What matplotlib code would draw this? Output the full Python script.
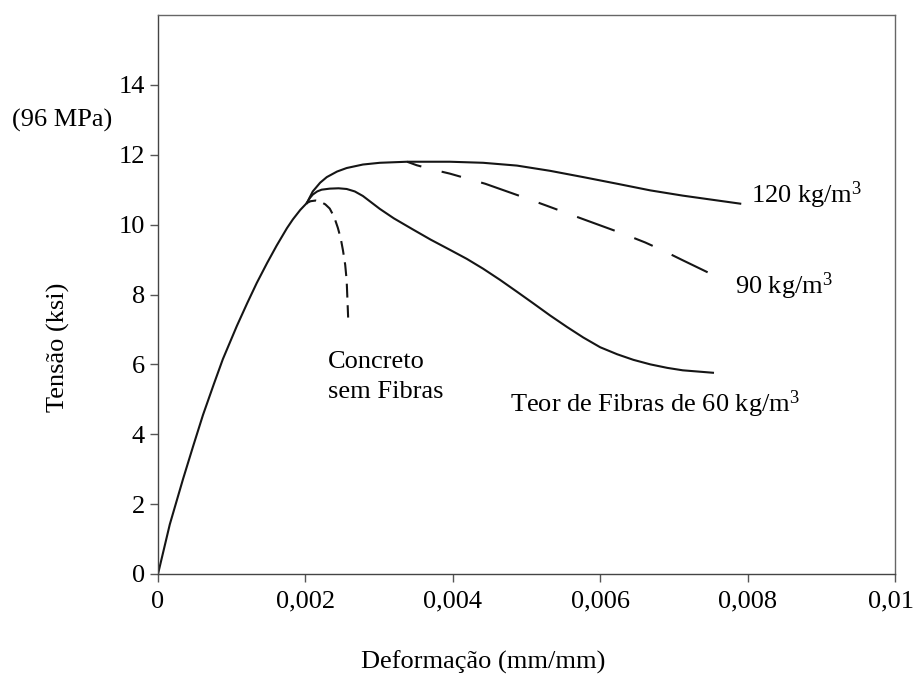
import matplotlib
matplotlib.use('Agg')
import matplotlib.pyplot as plt
import matplotlib.transforms as mtransforms

# strain (mm/mm) and stress (ksi)
rise_x = [0, 0.00016, 0.00034, 0.00048, 0.00061, 0.00076, 0.00088, 0.00107, 0.00121, 0.00134,
          0.00148, 0.00161, 0.00175, 0.00183, 0.00193, 0.00202]
rise_y = [0, 1.42, 2.72, 3.68, 4.55, 5.45, 6.15, 7.10, 7.75, 8.33,
          8.90, 9.40, 9.90, 10.15, 10.42, 10.62]

plain_x = [0.00202, 0.00207, 0.00214, 0.0022, 0.00227, 0.00233, 0.00239, 0.00244, 0.00248, 0.00251,
           0.00254, 0.00256, 0.00258]
plain_y = [10.62, 10.67, 10.69, 10.66, 10.58, 10.46, 10.22, 9.91, 9.60, 9.26,
           8.85, 8.40, 7.34]

f60_x = [0.00202, 0.00206, 0.0021, 0.00216, 0.00222, 0.00233, 0.00245, 0.00256, 0.00267, 0.00278,
         0.00301, 0.0032, 0.00346, 0.0037, 0.00396, 0.00419, 0.00441, 0.00464, 0.00487, 0.00509,
         0.00532, 0.00555, 0.00577, 0.006, 0.00623, 0.00645, 0.00668, 0.00691, 0.00712, 0.00753]
f60_y = [10.62, 10.76, 10.86, 10.95, 11.0, 11.03, 11.04, 11.02, 10.95, 10.82,
         10.45, 10.18, 9.86, 9.57, 9.28, 9.02, 8.74, 8.42, 8.08, 7.75,
         7.40, 7.07, 6.77, 6.49, 6.29, 6.13, 6.00, 5.90, 5.83, 5.76]

f120_x = [0.00202, 0.0021, 0.0022, 0.00229, 0.00243, 0.00256, 0.00278, 0.00301, 0.00338, 0.00396,
          0.00441, 0.00487, 0.00532, 0.00577, 0.00623, 0.00668, 0.00712, 0.0079]
f120_y = [10.62, 10.95, 11.20, 11.36, 11.52, 11.62, 11.72, 11.77, 11.80, 11.80,
          11.77, 11.69, 11.54, 11.36, 11.17, 10.98, 10.83, 10.60]

f90_x = [0.00338, 0.00351, 0.00372, 0.00396, 0.00444, 0.00495, 0.00525, 0.00552, 0.00579, 0.00631,
         0.00661, 0.00685, 0.00712, 0.00763]
f90_y = [11.80, 11.70, 11.58, 11.46, 11.17, 10.79, 10.56, 10.35, 10.14, 9.74,
         9.49, 9.26, 8.98, 8.46]

x_ticks = [0, 0.002, 0.004, 0.006, 0.008, 0.01]
x_labels = ['0', '0,002', '0,004', '0,006', '0,008', '0,01']
y_ticks = [0, 2, 4, 6, 8, 10, 12, 14]

plt.rcParams['font.family'] = ['Liberation Serif', 'DejaVu Serif']
plt.rcParams['font.size'] = 19
plt.rcParams['mathtext.fontset'] = 'custom'
plt.rcParams['mathtext.rm'] = 'Liberation Serif'
plt.rcParams['lines.scale_dashes'] = False

fig = plt.figure(figsize=(9.16, 6.76), dpi=100)
ax = fig.add_axes([158 / 916, 1 - 574 / 676, 737 / 916, 559 / 676])

ink = '#151515'
lw = 1.5
ax.plot(rise_x, rise_y, color=ink, lw=lw)
ax.plot(f60_x, f60_y, color=ink, lw=lw)
ax.plot(f120_x, f120_y, color=ink, lw=lw)
ax.plot(plain_x, plain_y, color=ink, lw=lw, linestyle=(3, (10, 5.5)))
ax.plot(f90_x, f90_y, color=ink, lw=lw, linestyle=(18, (28.8, 15.1, 14.4, 15.1)))

ax.set_xlim(0, 0.01)
ax.set_ylim(0, 16)
ax.set_xticks(x_ticks)
ax.set_xticklabels(x_labels)
ax.set_yticks(y_ticks)

for side in ['left', 'right', 'top', 'bottom']:
    ax.spines[side].set_color('#666666')
    ax.spines[side].set_linewidth(1.0)
ax.spines['left'].set_color('#444444')
ax.spines['bottom'].set_color('#444444')
ax.tick_params(axis='both', direction='out', length=6, width=1, color='#555555', labelcolor='black')
ax.tick_params(axis='x', pad=6)
ax.tick_params(axis='y', pad=3.5)

# last x label sits right at the figure edge, nudge it in a little
last = ax.get_xticklabels()[-1]
last.set_transform(last.get_transform() + mtransforms.ScaledTranslation(-4 / 100, 0, fig.dpi_scale_trans))

# curve labels
unit = r'kg/m$\mathregular{^3}$'
ax.text(0.00805, 10.63, '120 ' + unit, ha='left', va='baseline')
ax.text(0.00783, 8.03, '90 ' + unit, ha='left', va='baseline')
ax.text(0.00478, 4.63, 'Teor de Fibras de 60 ' + unit, ha='left', va='baseline')
ax.text(0.00231, 5.91, 'Concreto', ha='left', va='baseline')
ax.text(0.00231, 5.03, 'sem Fibras', ha='left', va='baseline')

fig.text(112 / 916, 1 - 120 / 676, '(96 MPa)', ha='right', va='center')
fig.text(58 / 916, 1 - 347 / 676, 'Tensão (ksi)', rotation=90, ha='center', va='center')
fig.text(483 / 916, 1 - 662 / 676, 'Deformação (mm/mm)', ha='center', va='center')

fig.savefig('out.png', dpi=100)
